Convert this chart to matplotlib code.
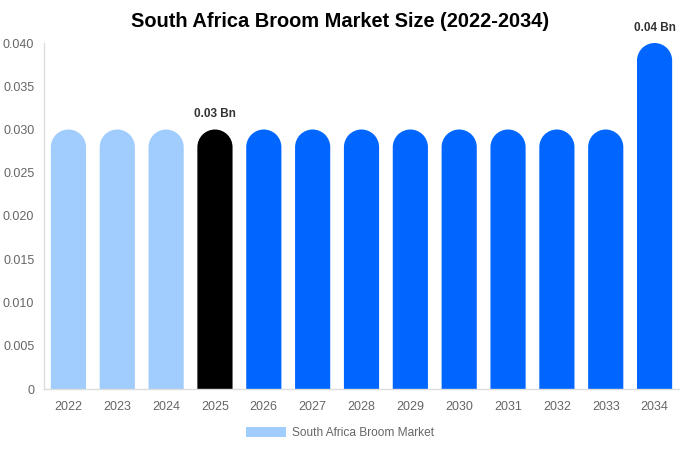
import matplotlib
matplotlib.use("Agg")
import numpy as np
import matplotlib.pyplot as plt
from matplotlib.patches import Patch, PathPatch
from matplotlib.path import Path
from matplotlib.transforms import Affine2D

plt.rcParams['font.family'] = ['Liberation Sans', 'DejaVu Sans']

years = ["2022", "2023", "2024", "2025", "2026", "2027", "2028", "2029", "2030", "2031", "2032", "2033", "2034"]
values = [0.03, 0.03, 0.03, 0.03, 0.03, 0.03, 0.03, 0.03, 0.03, 0.03, 0.03, 0.03, 0.04]
colors = ["#a0cdfd"] * 3 + ["#000000"] + ["#0066ff"] * 9
labels = {3: "0.03 Bn", 12: "0.04 Bn"}
yticks = [0, 0.005, 0.010, 0.015, 0.020, 0.025, 0.030, 0.035, 0.040]
ytick_labels = ["0", "0.005", "0.010", "0.015", "0.020", "0.025", "0.030", "0.035", "0.040"]

W, H = 680, 450
fig = plt.figure(figsize=(W / 100, H / 100), dpi=100)
ax_l, ax_r, ax_t, ax_b = 44, 679, 43, 389
ax = fig.add_axes([ax_l / W, (H - ax_b) / H, (ax_r - ax_l) / W, (ax_b - ax_t) / H])
ymax = 0.04
ax.set_xlim(-0.5, len(years) - 0.5)
ax.set_ylim(0, ymax)

bw = 0.72
px_per_x = (ax_r - ax_l) / len(years)
px_per_y = (ax_b - ax_t) / ymax
r_px = bw * px_per_x / 2
r_data = r_px / px_per_y

arc = Path.arc(0, 180)
for i, (v, c) in enumerate(zip(values, colors)):
    top = Affine2D().scale(bw / 2, r_data).translate(i, v - r_data).transform_path(arc)
    verts = np.vstack([[[i + bw / 2, 0]], top.vertices, [[i - bw / 2, 0], [i + bw / 2, 0]]])
    codes = [Path.MOVETO] + [Path.LINETO] + list(top.codes[1:]) + [Path.LINETO, Path.CLOSEPOLY]
    ax.add_patch(PathPatch(Path(verts, codes), facecolor=c, edgecolor='none'))
    if i in labels:
        ax.annotate(labels[i], (i, v), xytext=(0, 6.5), textcoords='offset points',
                    ha='center', va='bottom', fontsize=8.5, fontweight='bold', color='#333333')

ax.set_xticks(range(len(years)))
ax.set_xticklabels(years)
ax.set_yticks(yticks)
ax.set_yticklabels(ytick_labels)
ax.tick_params(axis='both', length=0, labelsize=9, colors='#666666')
ax.tick_params(axis='x', pad=9)
ax.tick_params(axis='y', pad=7)
for s in ['top', 'right']:
    ax.spines[s].set_visible(False)
for s in ['left', 'bottom']:
    ax.spines[s].set_color('#dddddd')
    ax.spines[s].set_linewidth(1)

fig.text(340 / W, 1 - 21.5 / H, "South Africa Broom Market Size (2022-2034)", ha='center', va='center',
         fontsize=14.4, fontweight='bold', color='#000000')

leg = fig.legend(handles=[Patch(facecolor="#a0cdfd", edgecolor='none', label="South Africa Broom Market")],
                 loc='center', bbox_to_anchor=(340 / W, 1 - 433 / H), frameon=False, fontsize=8.6,
                 handlelength=3.35, handleheight=1.0, handletextpad=0.5)
for t in leg.get_texts():
    t.set_color('#666666')

fig.savefig("out.png", dpi=100)
